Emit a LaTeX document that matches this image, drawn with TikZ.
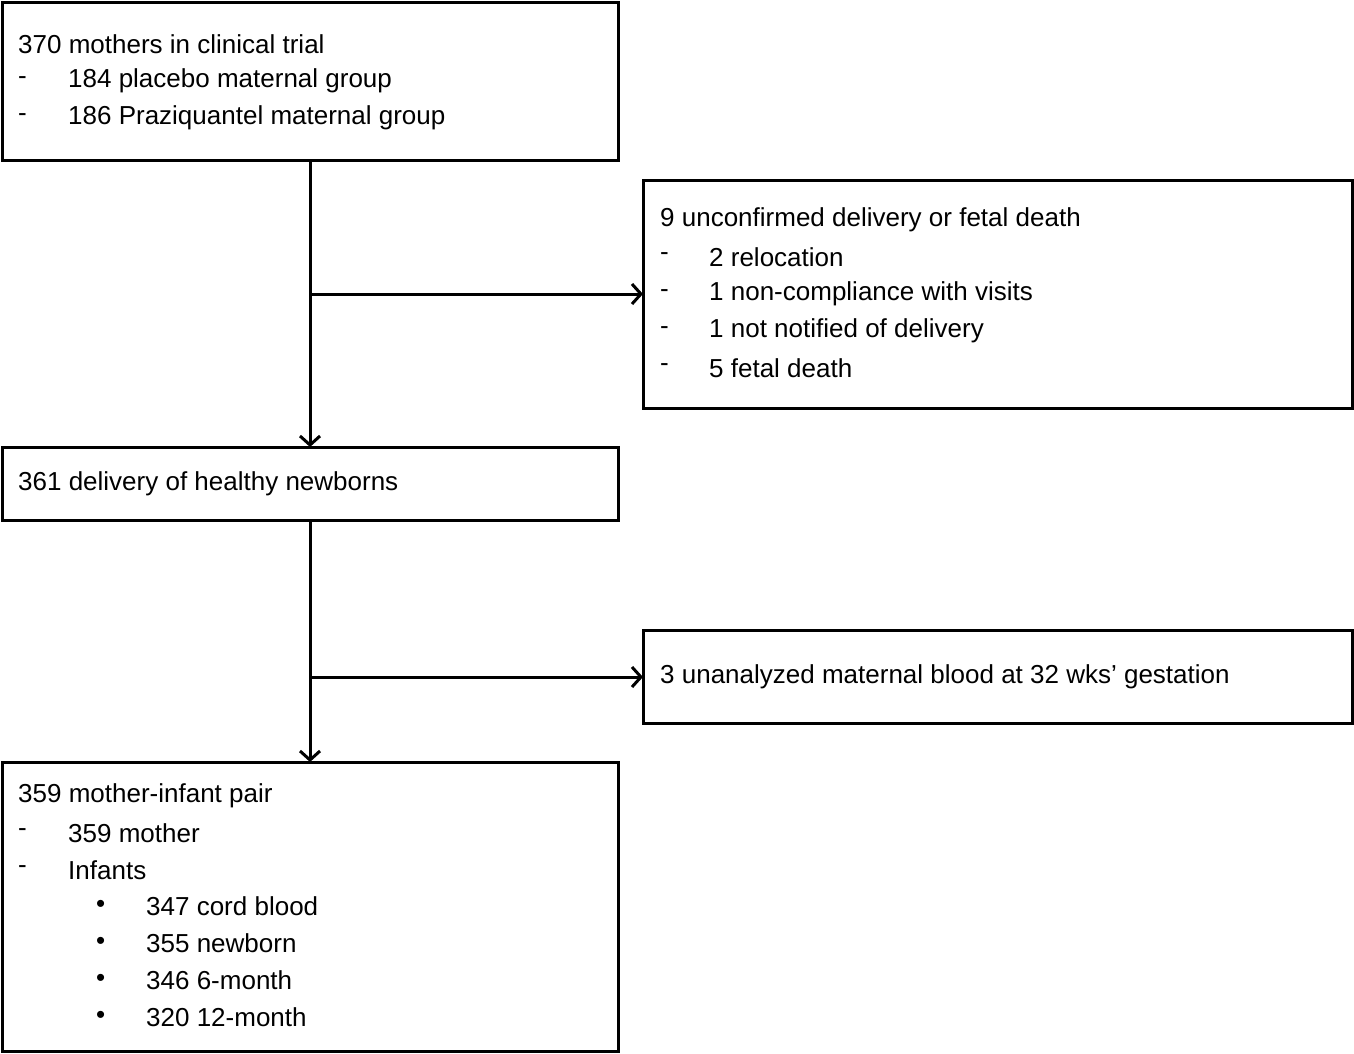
\documentclass[tikz,border=0pt]{standalone}
\usepackage{fontspec}
\setmainfont{Liberation Sans}
\usetikzlibrary{arrows.meta}
\begin{document}
\begin{tikzpicture}[x=1pt,y=-1pt,
 box/.style={draw,line width=3pt},
 t/.style={anchor=west,inner sep=0pt,font=\fontsize{26}{30}\selectfont},
 arr/.style={line width=3pt,-{Straight Barb[length=9pt,width=20pt,line width=3pt]}}]
\useasboundingbox (0,0) rectangle (1354,1053);
\draw[box] (2,2) rectangle (618,160); \coordinate (b1) at (310,160);
\draw[box] (643,180) rectangle (1352,408); \coordinate (b2) at (643,294);
\draw[box] (2,447) rectangle (618,520); \coordinate (b3t) at (310,447); \coordinate (b3) at (310,520);
\draw[box] (643,630) rectangle (1352,723); \coordinate (b4) at (643,677);
\draw[box] (2,762) rectangle (618,1051); \coordinate (b5) at (310,762);
\coordinate (j1) at (310,294); \coordinate (j2) at (310,677);
\draw[line width=3pt] (b1) -- (j1); \draw[arr] (j1) -- (b3t); \draw[arr] (j1) -- (b2);
\draw[line width=3pt] (b3) -- (j2); \draw[arr] (j2) -- (b5); \draw[arr] (j2) -- (b4);
% box1
\node[t] (a1) at (18,44) {370 mothers in clinical trial};
\node[t] (a2) at (18,81) {-}; \node[t] (a3) at (68,81) {184 placebo maternal group};
\node[t] (a4) at (18,118) {-}; \node[t] (a5) at (68,118) {186 Praziquantel maternal group};
% box2
\node[t] (c1) at (660,220) {9 unconfirmed delivery or fetal death};
\node[t] (c2) at (660,257) {-}; \node[t] (c3) at (709,257) {2 relocation};
\node[t] (c4) at (660,294) {-}; \node[t] (c5) at (709,294) {1 non-compliance with visits};
\node[t] (c6) at (660,331) {-}; \node[t] (c7) at (709,331) {1 not notified of delivery};
\node[t] (c8) at (660,368) {-}; \node[t] (c9) at (709,368) {5 fetal death};
% box3
\node[t] (d1) at (18,484) {361 delivery of healthy newborns};
% box4
\node[t] (e1) at (660,677) {3 unanalyzed maternal blood at 32 wks’ gestation};
% box5
\node[t] (f1) at (18,796) {359 mother-infant pair};
\node[t] (f2) at (18,833) {-}; \node[t] (f3) at (68,833) {359 mother};
\node[t] (f4) at (18,870) {-}; \node[t] (f5) at (68,870) {Infants};
\node[t] (g1) at (96,906) {\textbullet}; \node[t] (h1) at (146,906) {347 cord blood};
\node[t] (g2) at (96,943) {\textbullet}; \node[t] (h2) at (146,943) {355 newborn};
\node[t] (g3) at (96,980) {\textbullet}; \node[t] (h3) at (146,980) {346 6-month};
\node[t] (g4) at (96,1017) {\textbullet}; \node[t] (h4) at (146,1017) {320 12-month};
\end{tikzpicture}
\end{document}
